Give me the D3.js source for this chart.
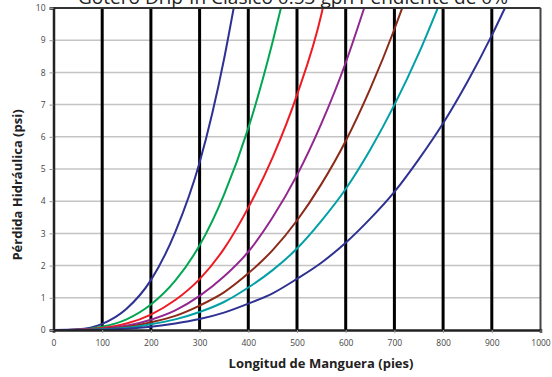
<!DOCTYPE html>
<html>
<head>
<meta charset="utf-8">
<script src="https://cdn.jsdelivr.net/npm/d3@7"></script>
<style>
  html, body { margin: 0; padding: 0; background: #fff; }
  svg { display: block; }
  text { font-family: "Open Sans", "Noto Sans", sans-serif; }
</style>
</head>
<body>
<svg id="chart" width="552" height="377"></svg>
<script>
// Hose length sample points (ft)
const lengthsFt = [0, 50, 100, 150, 200, 250, 300, 350, 400, 450, 500, 550, 600, 650, 700, 750, 800, 850, 900];

// Pressure loss (psi) per curve at the lengths above
const lossA = [0, 0.02, 0.19, 0.66, 1.55, 3.04, 5.2, 8.4];
const lossB = [0, 0.01, 0.10, 0.33, 0.79, 1.53, 2.63, 4.2, 6.27, 8.95];
const lossC = [0, 0.01, 0.06, 0.20, 0.48, 0.93, 1.58, 2.52, 3.8, 5.36, 7.3, 9.8];
const lossD = [0, 0.01, 0.04, 0.13, 0.32, 0.61, 1.06, 1.66, 2.43, 3.5, 4.81, 6.41, 8.3];
const lossE = [0, 0.00, 0.03, 0.09, 0.24, 0.44, 0.76, 1.17, 1.76, 2.48, 3.4, 4.53, 5.87, 7.48, 9.34];
const lossF = [0, 0.00, 0.02, 0.07, 0.18, 0.33, 0.56, 0.87, 1.32, 1.86, 2.53, 3.39, 4.38, 5.59, 6.99, 8.59];
const lossG = [0, 0.00, 0.01, 0.04, 0.10, 0.20, 0.34, 0.54, 0.82, 1.14, 1.59, 2.09, 2.71, 3.45, 4.29, 5.3, 6.42, 7.71, 9.15];

// Length at which each curve reaches 10 psi
const endLengthFt = [370, 467, 553, 638, 716, 789, 927];
const curveColors = ["#2e3192", "#00a651", "#ed1c24", "#92278f", "#8b2a18", "#00a0a6", "#2e3192"];

const xTicks = [0, 100, 200, 300, 400, 500, 600, 700, 800, 900, 1000];
const yTicks = [0, 1, 2, 3, 4, 5, 6, 7, 8, 9, 10];

const titleText = "Gotero Drip-In Clásico 0.53 gph Pendiente de 0%";
const xTitle = "Longitud de Manguera (pies)";
const yTitle = "Pérdida Hidráulica (psi)";

const svg = d3.select("#chart");
const margin = { top: 8, right: 11.5, bottom: 47, left: 53.5 };
const W = 552, H = 377;
const x = d3.scaleLinear().domain([0, 1000]).range([margin.left, W - margin.right]);
const y = d3.scaleLinear().domain([0, 10]).range([H - margin.bottom, margin.top]);

// Horizontal light gridlines
svg.append("g").selectAll("line")
  .data(yTicks.filter(d => d > 0 && d < 10))
  .join("line")
  .attr("x1", x(0)).attr("x2", x(1000))
  .attr("y1", d => y(d)).attr("y2", d => y(d))
  .attr("stroke", "#c4c4c4").attr("stroke-width", 1.5);

// Heavy vertical gridlines every 100 ft
svg.append("g").selectAll("line")
  .data(xTicks.filter(d => d > 0 && d < 1000))
  .join("line")
  .attr("x1", d => x(d)).attr("x2", d => x(d))
  .attr("y1", y(0)).attr("y2", y(10))
  .attr("stroke", "#000").attr("stroke-width", 3);

// Curves
const series = [lossA, lossB, lossC, lossD, lossE, lossF, lossG];
const line = d3.line().x(d => x(d[0])).y(d => y(d[1])).curve(d3.curveMonotoneX);
const plot = svg.append("g");
series.forEach((vals, i) => {
  const pts = vals.map((v, j) => [lengthsFt[j], v]);
  pts.push([endLengthFt[i], 10]);
  plot.append("path")
    .datum(pts)
    .attr("d", line)
    .attr("fill", "none")
    .attr("stroke", curveColors[i])
    .attr("stroke-width", 2);
});

// Frame
svg.append("line").attr("x1", x(0)).attr("x2", x(1000)).attr("y1", y(10)).attr("y2", y(10))
  .attr("stroke", "#333").attr("stroke-width", 2);
svg.append("line").attr("x1", x(1000)).attr("x2", x(1000)).attr("y1", y(0)).attr("y2", y(10))
  .attr("stroke", "#444").attr("stroke-width", 2);

// Axes
const xAxis = svg.append("g")
  .attr("transform", `translate(0,${y(0)})`)
  .call(d3.axisBottom(x).tickValues(xTicks).tickSize(3).tickPadding(7).tickFormat(d3.format("d")));
const yAxis = svg.append("g")
  .attr("transform", `translate(${x(0)},0)`)
  .call(d3.axisLeft(y).tickValues(yTicks).tickSize(4).tickPadding(4).tickFormat(d3.format("d")));

[xAxis, yAxis].forEach(g => {
  g.select(".domain").attr("stroke", "#222").attr("stroke-width", 2.5);
  g.selectAll(".tick line").attr("stroke", "#999");
  g.selectAll(".tick text").attr("fill", "#444").attr("font-size", 8.5)
    .attr("font-family", "'Open Sans', 'Noto Sans', sans-serif");
});

// Titles (the chart title sits partly above the top edge)
svg.append("text")
  .attr("x", 293).attr("y", 4)
  .attr("text-anchor", "middle")
  .attr("font-size", 19)
  .attr("textLength", 430).attr("lengthAdjust", "spacingAndGlyphs")
  .attr("fill", "#222")
  .text(titleText);

svg.append("text")
  .attr("x", 321).attr("y", 368)
  .attr("text-anchor", "middle")
  .attr("font-size", 13).attr("font-weight", "bold")
  .attr("fill", "#222")
  .text(xTitle);

svg.append("text")
  .attr("transform", "translate(22,185) rotate(-90)")
  .attr("text-anchor", "middle")
  .attr("font-size", 13).attr("font-weight", "bold")
  .attr("fill", "#222")
  .text(yTitle);
</script>
</body>
</html>
